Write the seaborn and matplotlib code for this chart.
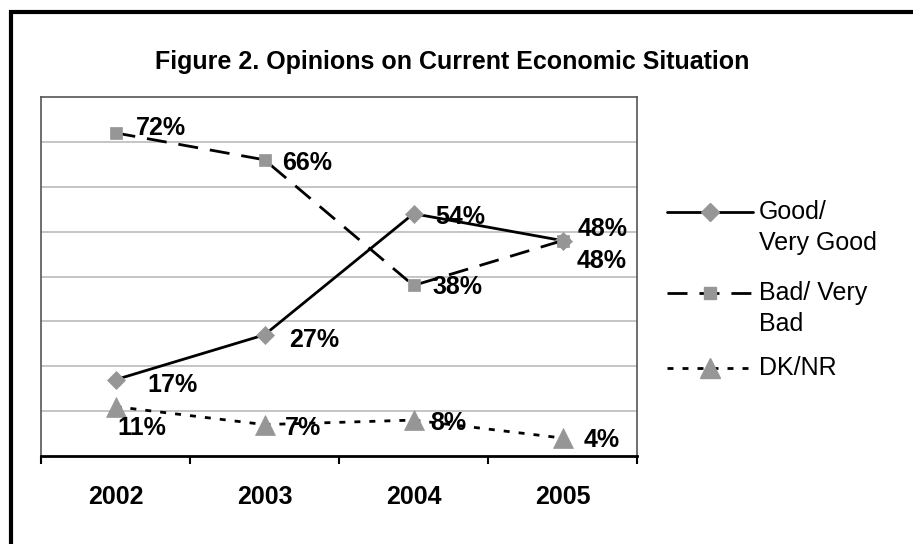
import matplotlib
matplotlib.use("Agg")
import matplotlib.pyplot as plt
from matplotlib.lines import Line2D
from matplotlib.patches import Rectangle
import numpy as np
import pandas as pd
import seaborn as sns

# chart data
years = ["2002", "2003", "2004", "2005"]
good = [17, 27, 54, 48]
bad = [72, 66, 38, 48]
dknr = [11, 7, 8, 4]
series_names = ["Good/ Very Good", "Bad/ Very Bad", "DK/NR"]

# label offsets from marker in pixels (dx right, dy down)
good_off = [(32, 5), (25, 5), (22, 3), (15, -12)]
bad_off = [(20, -5), (18, 3), (19, 2), (14, 20)]
dknr_off = [(2, 21), (20, 3), (17, 3), (21, 2)]

sns.set_theme(style="white")
plt.rcParams["font.family"] = ["Liberation Sans", "DejaVu Sans"]
plt.rcParams["lines.scale_dashes"] = False
plt.rcParams["text.color"] = "black"
plt.rcParams["xtick.color"] = "black"
plt.rcParams["xtick.labelcolor"] = "black"

W, H = 913, 544
fig = plt.figure(figsize=(W / 100, H / 100), dpi=100)
fig.patch.set_facecolor("white")

# outer black border (runs off the right and bottom edges)
fig.patches.append(Rectangle((10.5 / W, -0.1), 1.2, 1 - 12.5 / H + 0.1,
                             transform=fig.transFigure, fill=False,
                             edgecolor="black", linewidth=3.0, zorder=0))

ax = fig.add_axes([41 / W, 88 / H, 596 / W, 359 / H])

mgray = "#969696"
styles = [
    dict(marker="D", markersize=9.5, linestyle="-"),
    dict(marker="s", markersize=9, linestyle=(0, (14.4, 8.6))),
    dict(marker="^", markersize=14, linestyle=(0, (4.3, 6.5))),
]
values = [good, bad, dknr]
offsets = [good_off, bad_off, dknr_off]

x = np.arange(len(years))
for name, vals, st in zip(series_names, values, styles):
    df = pd.DataFrame({"x": x, "value": vals})
    sns.lineplot(data=df, x="x", y="value", ax=ax, color="black",
                 linewidth=2.0, markerfacecolor=mgray, markeredgecolor=mgray,
                 markeredgewidth=0.5, zorder=3, **st)

for vals, offs in zip(values, offsets):
    for xi, v, (dx, dy) in zip(x, vals, offs):
        ax.annotate(f"{v}%", (xi, v), xytext=(dx * 0.72, -dy * 0.72),
                    textcoords="offset points", ha="left", va="center",
                    fontsize=18, fontweight="bold", color="black", zorder=4)

ax.set_xlim(-0.5, 3.5)
ax.set_ylim(0, 80)
ax.set_yticks(np.arange(10, 80, 10))
ax.set_yticklabels([])
ax.tick_params(axis="y", length=0)
ax.yaxis.grid(True, color="#c0c0c0", linewidth=1.3)
ax.xaxis.grid(False)
ax.set_axisbelow(True)

ax.set_xticks(x)
ax.set_xticklabels(years, fontsize=18, fontweight="bold", color="black")
ax.set_xticks(np.arange(-0.5, 4, 1), minor=True)
ax.tick_params(axis="x", which="major", bottom=True, length=0, pad=21)
ax.tick_params(axis="x", which="minor", bottom=True, length=6, width=1.5,
               direction="out", color="black")
ax.set_xlabel("")
ax.set_ylabel("")

for side in ["left", "top", "right"]:
    ax.spines[side].set_color("#555555")
    ax.spines[side].set_linewidth(1.2)
ax.spines["bottom"].set_color("black")
ax.spines["bottom"].set_linewidth(2.0)

fig.suptitle("Figure 2. Opinions on Current Economic Situation",
             x=452 / W, y=1 - 62 / H, va="center", ha="center",
             fontsize=18, fontweight="bold", color="black")

# legend drawn by hand so the handle sits on the first line of each label
leg_rows = [(212, ["Good/", "Very Good"]), (293, ["Bad/ Very", "Bad"]), (368, ["DK/NR"])]
for (ypx, lines), st in zip(leg_rows, styles):
    yf = 1 - ypx / H
    fig.add_artist(Line2D([667 / W, 753 / W], [yf, yf], transform=fig.transFigure,
                          color="black", linewidth=2.0, linestyle=st["linestyle"]))
    fig.add_artist(Line2D([710 / W], [yf], transform=fig.transFigure,
                          marker=st["marker"], markersize=st["markersize"],
                          markerfacecolor=mgray, markeredgecolor=mgray,
                          linestyle="none"))
    for k, txt in enumerate(lines):
        fig.text(759 / W, 1 - (ypx + k * 31) / H, txt, fontsize=18,
                 ha="left", va="center", color="black")

fig.savefig("out.png", dpi=100)
